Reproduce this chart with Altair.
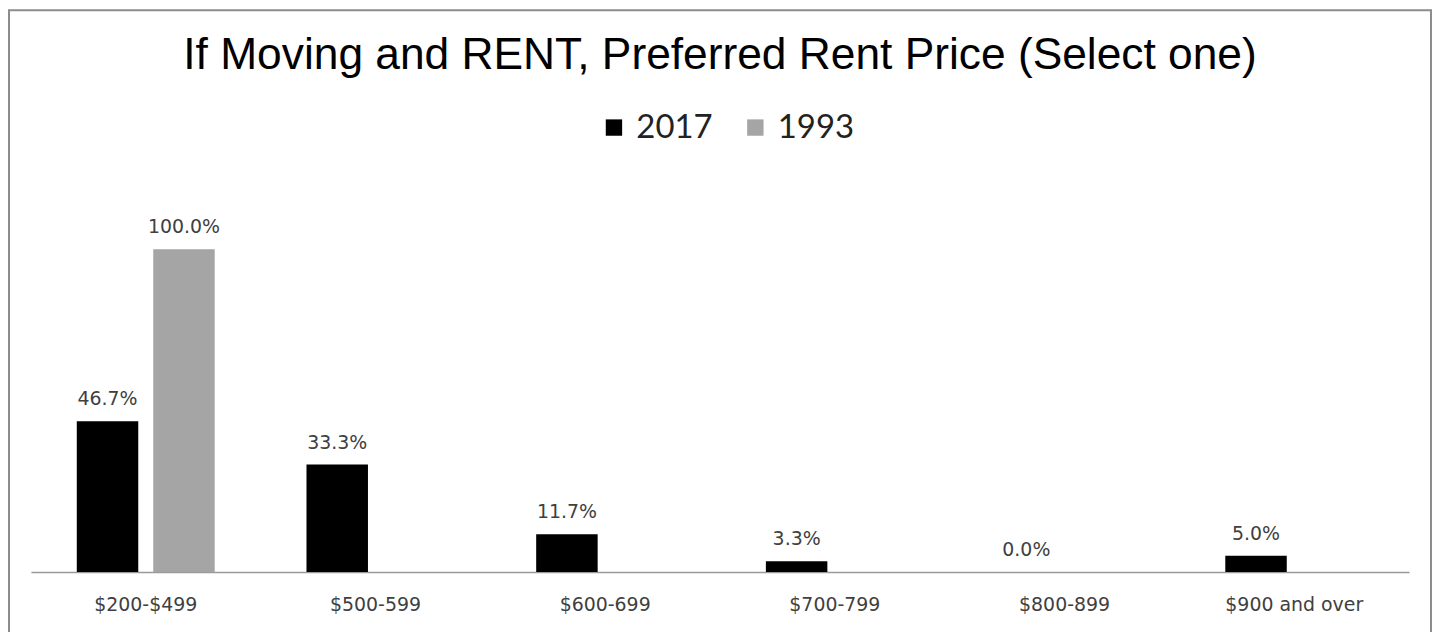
import altair as alt
import pandas as pd

categories = ["$200-$499", "$500-599", "$600-699", "$700-799", "$800-899", "$900 and over"]
series = ["2017", "1993"]
values_2017 = [0.467, 0.333, 0.117, 0.033, 0.0, 0.05]
values_1993 = [1.0, None, None, None, None, None]
colors = ["#000000", "#a5a5a5"]
title_text = "If Moving and RENT, Preferred Rent Price (Select one)"

rows = []
for i, c in enumerate(categories):
    rows.append({"category": c, "series": "2017", "value": values_2017[i]})
    if values_1993[i] is not None:
        rows.append({"category": c, "series": "1993", "value": values_1993[i]})
df = pd.DataFrame(rows)

W, H = 1384, 389

base = alt.Chart(df).encode(
    x=alt.X(
        "category:N",
        sort=categories,
        scale=alt.Scale(paddingInner=0, paddingOuter=0),
        axis=alt.Axis(
            title=None, labelAngle=0, ticks=False, labelPadding=24,
            labelFont="DejaVu Sans", labelFontSize=19, labelColor="#404040",
            domainColor="#9a9a9a", domainWidth=1.5,
        ),
    ),
    xOffset=alt.XOffset(
        "series:N", sort=series,
        scale=alt.Scale(domain=series, paddingInner=0.196, paddingOuter=0.6),
    ),
    y=alt.Y("value:Q", scale=alt.Scale(domain=[0, 1.2]), axis=None),
)

bars = base.mark_bar().encode(
    color=alt.Color(
        "series:N",
        sort=series,
        scale=alt.Scale(domain=series, range=colors),
        title=None,
        legend=alt.Legend(
            orient="none", legendX=569, legendY=-74, direction="horizontal",
            symbolType="square", symbolSize=270, symbolStrokeWidth=0,
            labelFont="Lato", labelFontSize=33, labelColor="#222222",
            labelOffset=6, columnPadding=26,
        ),
    )
)

labels = base.mark_text(
    baseline="alphabetic", dy=-16, font="DejaVu Sans", fontSize=19, color="#404040"
).encode(text=alt.Text("value:Q", format=".1%"))

border = alt.Chart(pd.DataFrame({"k": [0]})).mark_rect(
    fillOpacity=0, stroke="#8c8c8c", strokeWidth=2
).encode(
    x=alt.value(-22), x2=alt.value(1406), y=alt.value(-175), y2=alt.value(480)
)

chart = alt.layer(border, bars, labels).properties(
    width=W,
    height=H,
    padding={"left": 23, "top": 176, "right": 26, "bottom": 60},
    autosize=alt.AutoSizeParams(type="none"),
    title=alt.Title(
        title_text, font="Liberation Sans", fontSize=44.5, fontWeight="normal",
        color="#000000", anchor="middle", baseline="alphabetic", offset=0, dy=104,
    ),
).configure_view(stroke=None)

chart.save("out.html", embed_options={"renderer": "svg", "actions": False})
